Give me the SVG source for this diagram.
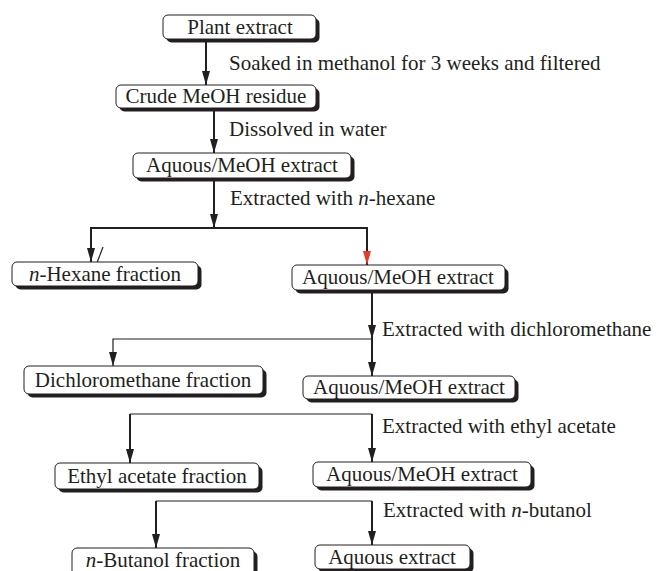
<svg xmlns="http://www.w3.org/2000/svg" width="661" height="571" viewBox="0 0 661 571">
<style>
text{font-family:"Liberation Serif","Times New Roman",serif;font-size:21px;fill:#231f20}
.box{fill:#fff;stroke:#231f20;stroke-width:1}
.sh{fill:#231f20}
.c{fill:none;stroke:#231f20;stroke-width:2}
.t{fill:none;stroke:#231f20;stroke-width:1.2}
.m{text-anchor:middle}
</style>
<defs>
<marker id="a" markerUnits="userSpaceOnUse" markerWidth="14" markerHeight="9" refX="14" refY="4.5" orient="auto">
<path d="M0,0.5 L14,4.5 L0,8.5 Z" fill="#231f20"/>
</marker>
<marker id="r" markerUnits="userSpaceOnUse" markerWidth="14" markerHeight="9" refX="14" refY="4.5" orient="auto">
<path d="M0,0.5 L14,4.5 L0,8.5 Z" fill="#e8392c"/>
</marker>
</defs>
<g id="connectors">
<path class="c" d="M206,39 V85" marker-end="url(#a)"/>
<path class="c" d="M214,108 V153" marker-end="url(#a)"/>
<path class="c" d="M214,178 V228" marker-end="url(#a)"/>
<path class="c" d="M214,228 H91 V262" marker-end="url(#a)"/>
<path class="c" d="M214,228 H367 V265" marker-end="url(#r)"/>
<path class="t" d="M103,247 L95,268"/>
<path class="c" d="M372,290 V339" marker-end="url(#a)"/>
<path class="c" d="M372,339 V376" marker-end="url(#a)"/>
<path class="t" d="M372,339 H113 V366" marker-end="url(#a)"/>
<path class="t" d="M372,414 H130"/>
<path class="c" d="M130,414 V463" marker-end="url(#a)"/>
<path class="c" d="M372,414 V462" marker-end="url(#a)"/>
<path class="t" d="M372,501 H156"/>
<path class="c" d="M156,501 V548" marker-end="url(#a)"/>
<path class="c" d="M372,501 V545" marker-end="url(#a)"/>
<text x="229" y="70">Soaked in methanol for 3 weeks and filtered</text>
<text x="229" y="136">Dissolved in water</text>
<text x="230" y="205">Extracted with <tspan font-style="italic">n</tspan>-hexane</text>
<text x="382" y="336">Extracted with dichloromethane</text>
<text x="382" y="433">Extracted with ethyl acetate</text>
<text x="383" y="517">Extracted with <tspan font-style="italic">n</tspan>-butanol</text>
</g>
<g id="plant">
<rect class="sh" x="166.5" y="18.5" width="153" height="24" rx="5"/>
<rect class="box" x="163" y="15" width="153" height="24" rx="5"/>
<text class="m" x="240" y="34">Plant extract</text>
</g>
<g id="crude">
<rect class="sh" x="119.5" y="88.5" width="200" height="23" rx="5"/>
<rect class="box" x="116" y="85" width="200" height="23" rx="5"/>
<text class="m" x="216" y="103">Crude MeOH residue</text>
</g>
<g id="aq1">
<rect class="sh" x="136.5" y="156.5" width="218" height="25" rx="5"/>
<rect class="box" x="133" y="153" width="218" height="25" rx="5"/>
<text class="m" x="242" y="172">Aquous/MeOH extract</text>
</g>
<g id="hexane">
<rect class="sh" x="15.5" y="265.5" width="186" height="24" rx="5"/>
<rect class="box" x="12" y="262" width="186" height="24" rx="5"/>
<text class="m" x="105" y="281"><tspan font-style="italic">n</tspan>-Hexane fraction</text>
</g>
<g id="aq2">
<rect class="sh" x="295.5" y="268.5" width="213" height="25" rx="5"/>
<rect class="box" x="292" y="265" width="213" height="25" rx="5"/>
<text class="m" x="398" y="284">Aquous/MeOH extract</text>
</g>
<g id="dcm">
<rect class="sh" x="27.5" y="369.5" width="239" height="28" rx="5"/>
<rect class="box" x="24" y="366" width="239" height="28" rx="5"/>
<text class="m" x="143" y="387">Dichloromethane fraction</text>
</g>
<g id="aq3">
<rect class="sh" x="306.5" y="379.5" width="212" height="23" rx="5"/>
<rect class="box" x="303" y="376" width="212" height="23" rx="5"/>
<text class="m" x="409" y="394">Aquous/MeOH extract</text>
</g>
<g id="ethyl">
<rect class="sh" x="58.5" y="466.5" width="204" height="26" rx="5"/>
<rect class="box" x="55" y="463" width="204" height="26" rx="5"/>
<text class="m" x="157" y="483">Ethyl acetate fraction</text>
</g>
<g id="aq4">
<rect class="sh" x="316.5" y="465.5" width="218" height="25" rx="5"/>
<rect class="box" x="313" y="462" width="218" height="25" rx="5"/>
<text class="m" x="422" y="481">Aquous/MeOH extract</text>
</g>
<g id="butanol">
<rect class="sh" x="75.5" y="551.5" width="182" height="30" rx="5"/>
<rect class="box" x="72" y="548" width="182" height="30" rx="5"/>
<text class="m" x="163" y="567"><tspan font-style="italic">n</tspan>-Butanol fraction</text>
</g>
<g id="aqueous">
<rect class="sh" x="318.5" y="548.5" width="155" height="24" rx="5"/>
<rect class="box" x="315" y="545" width="155" height="24" rx="5"/>
<text class="m" x="392" y="564">Aquous extract</text>
</g>
</svg>
